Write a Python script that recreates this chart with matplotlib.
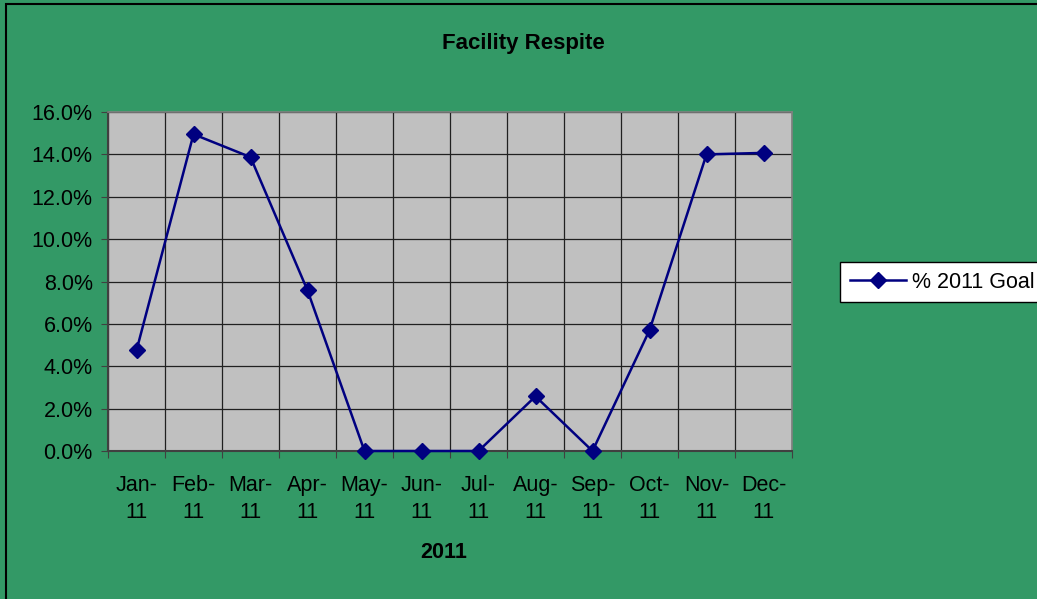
import matplotlib
matplotlib.use("Agg")
import matplotlib.pyplot as plt
from matplotlib.patches import Rectangle

months = ["Jan-\n11", "Feb-\n11", "Mar-\n11", "Apr-\n11", "May-\n11", "Jun-\n11",
          "Jul-\n11", "Aug-\n11", "Sep-\n11", "Oct-\n11", "Nov-\n11", "Dec-\n11"]
values = [4.75, 14.95, 13.87, 7.58, 0.0, 0.0, 0.0, 2.58, 0.0, 5.70, 14.0, 14.07]
yticks = [0, 2, 4, 6, 8, 10, 12, 14, 16]
ytick_labels = ["0.0%", "2.0%", "4.0%", "6.0%", "8.0%", "10.0%", "12.0%", "14.0%", "16.0%"]
series_name = "% 2011 Goal"
title = "Facility Respite"
xlabel = "2011"

plt.rcParams['font.family'] = ['Liberation Sans', 'DejaVu Sans']

W, H = 1037, 599
fig = plt.figure(figsize=(W / 100, H / 100), dpi=100)
fig.patch.set_facecolor("#339966")

# figure border (left/top visible)
fig.patches.append(Rectangle((6 / W, -0.1), 1.2, 1.1 - 4 / H, transform=fig.transFigure,
                             fill=False, edgecolor="black", linewidth=1.5))

left, right, top, bottom = 108, 792, 112, 451
ax = fig.add_axes([left / W, 1 - bottom / H, (right - left) / W, (bottom - top) / H])
ax.set_facecolor("#C0C0C0")

x = list(range(len(values)))
ax.plot(x, values, color="#000080", linewidth=1.8, marker="D", markersize=8,
        markerfacecolor="#000080", markeredgecolor="#000080", label=series_name,
        clip_on=False, zorder=3)

ax.set_xlim(-0.5, len(values) - 0.5)
ax.set_ylim(0, 16)
ax.set_yticks(yticks)
ax.set_yticklabels(ytick_labels, fontsize=15.5)

# category boundaries: gridlines + ticks
bounds = [i - 0.5 for i in range(len(values) + 1)]
ax.set_xticks(bounds)
ax.set_xticklabels([""] * len(bounds))
ax.set_xticks(x, minor=True)
ax.set_xticklabels(months, minor=True, fontsize=15.5, linespacing=1.4)
ax.tick_params(axis="x", which="minor", length=0, pad=17)
ax.tick_params(axis="x", which="major", length=5, direction="out", color="#404040")
ax.tick_params(axis="y", length=5, direction="out", color="#404040", pad=6)

ax.grid(True, which="major", axis="both", color="#202020", linewidth=0.9)
ax.set_axisbelow(True)

for s in ["top", "right"]:
    ax.spines[s].set_color("#808080")
    ax.spines[s].set_linewidth(1.2)
for s in ["left", "bottom"]:
    ax.spines[s].set_color("#404040")
    ax.spines[s].set_linewidth(1.5)

fig.text(523 / W, 1 - 43 / H, title, ha="center", va="center", fontsize=16, fontweight="bold")
fig.text(444 / W, 1 - 552 / H, xlabel, ha="center", va="center", fontsize=15.5, fontweight="bold")

leg = ax.legend(loc="upper left", bbox_to_anchor=(840 / W, 1 - 262 / H), bbox_transform=fig.transFigure,
                fontsize=15.5, frameon=True, fancybox=False, edgecolor="black", facecolor="white",
                framealpha=1, handlelength=2.6, borderpad=0.45, handletextpad=0.3, borderaxespad=0)
leg.get_frame().set_linewidth(1.0)

fig.savefig("out.png", dpi=100, facecolor=fig.get_facecolor())
